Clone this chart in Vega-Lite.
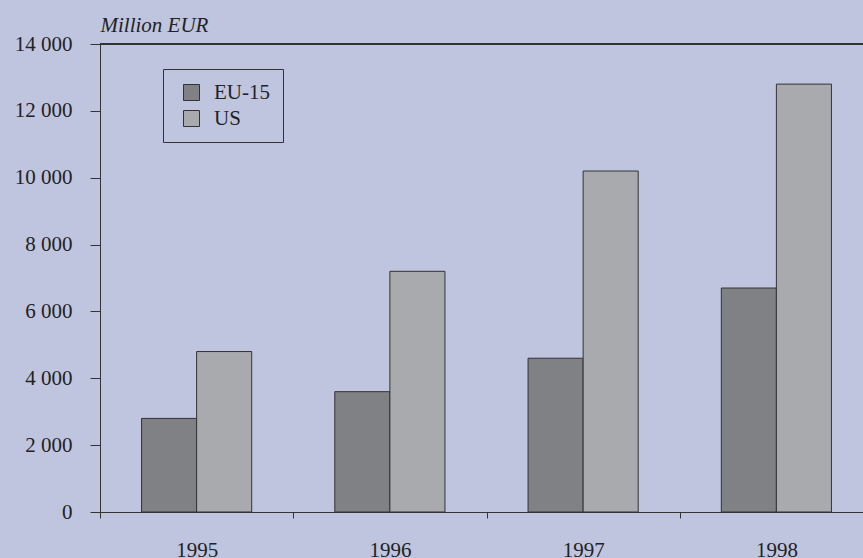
{
  "$schema": "https://vega.github.io/schema/vega-lite/v6.json",
  "width": 763,
  "height": 468,
  "autosize": {"type": "none"},
  "padding": {"left": 100, "top": 44, "right": 0, "bottom": 46},
  "background": "#bfc5df",
  "config": {"view": {"stroke": null}, "font": "Liberation Serif"},
  "data": {
    "values": [
      {"year": "1995", "series": "EU-15", "value": 2800},
      {"year": "1995", "series": "US", "value": 4800},
      {"year": "1996", "series": "EU-15", "value": 3600},
      {"year": "1996", "series": "US", "value": 7200},
      {"year": "1997", "series": "EU-15", "value": 4600},
      {"year": "1997", "series": "US", "value": 10200},
      {"year": "1998", "series": "EU-15", "value": 6700},
      {"year": "1998", "series": "US", "value": 12800}
    ]
  },
  "layer": [
    {
      "mark": {"type": "bar", "stroke": "#333333", "strokeWidth": 1},
      "encoding": {
        "x": {
          "field": "year",
          "type": "nominal",
          "scale": {"range": [0, 773], "paddingInner": 0.43, "paddingOuter": 0.215},
          "axis": {
            "title": null,
            "labelAngle": 0,
            "bandPosition": 0.5,
            "tickOffset": -96.6,
            "labelOffset": 96.6,
            "tickSize": 6,
            "tickColor": "#333333",
            "domainColor": "#333333",
            "labelPadding": 21,
            "labelFontSize": 21,
            "labelColor": "#222222",
            "grid": false
          }
        },
        "xOffset": {"field": "series", "sort": ["EU-15", "US"], "scale": {"paddingInner": 0}},
        "y": {
          "field": "value",
          "type": "quantitative",
          "scale": {"domain": [0, 14000]},
          "axis": {
            "title": "Million EUR",
            "titleFontStyle": "italic",
            "titleFontWeight": "normal",
            "titleFontSize": 21,
            "titleColor": "#222222",
            "titleAngle": 0,
            "titleAlign": "left",
            "titleX": 0,
            "titleY": -13,
            "titleBaseline": "alphabetic",
            "values": [0, 2000, 4000, 6000, 8000, 10000, 12000, 14000],
            "tickSize": 10,
            "tickColor": "#333333",
            "domainColor": "#333333",
            "labelFontSize": 21,
            "labelPadding": 18,
            "labelColor": "#222222",
            "grid": false,
            "labelExpr": "replace(format(datum.value, ','), ',', ' ')"
          }
        },
        "color": {
          "field": "series",
          "type": "nominal",
          "scale": {"domain": ["EU-15", "US"], "range": ["#808185", "#a9aaae"]},
          "legend": {
            "title": null,
            "orient": "none",
            "legendX": 63,
            "legendY": 25,
            "fillColor": "#bfc5df",
            "strokeColor": "#333333",
            "padding": 13,
            "symbolType": "square",
            "symbolSize": 256,
            "symbolStrokeColor": "#333333",
            "symbolStrokeWidth": 1,
            "symbolOffset": 5,
            "labelFontSize": 21,
            "labelOffset": 12,
            "labelColor": "#222222",
            "rowPadding": 4
          }
        }
      }
    },
    {
      "mark": {"type": "rule", "color": "#333333", "strokeWidth": 1},
      "encoding": {"y": {"datum": 14000}}
    }
  ]
}
